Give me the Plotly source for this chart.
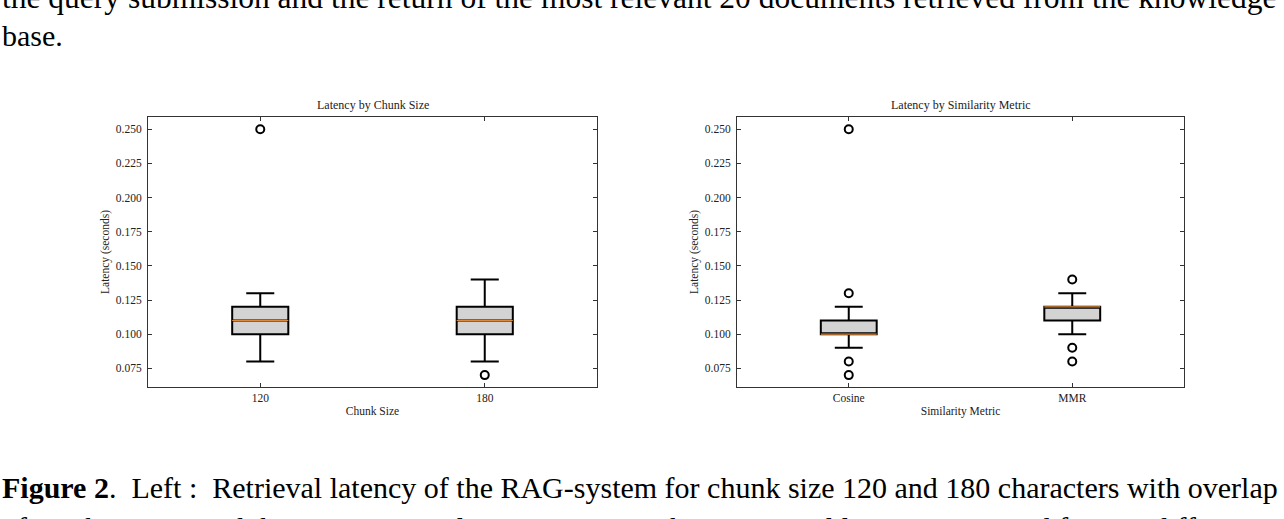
import plotly.graph_objects as go

# ---- data ----
chunk_labels = ["120", "180"]
chunk_pos = [1, 2]
chunk_q1 = [0.100, 0.100]
chunk_median = [0.110, 0.110]
chunk_q3 = [0.120, 0.120]
chunk_low = [0.080, 0.080]
chunk_high = [0.130, 0.140]
chunk_outliers = [[0.250], [0.070]]

metric_labels = ["Cosine", "MMR"]
metric_pos = [1, 2]
metric_q1 = [0.100, 0.110]
metric_median = [0.100, 0.120]
metric_q3 = [0.110, 0.120]
metric_low = [0.090, 0.100]
metric_high = [0.120, 0.130]
metric_outliers = [[0.250, 0.130, 0.080, 0.070], [0.140, 0.090, 0.080]]

y_ticks = [0.075, 0.100, 0.125, 0.150, 0.175, 0.200, 0.225, 0.250]

W, H = 1284, 519
FONT = "Liberation Serif, Times New Roman, serif"
BOX_W = 0.25


def px(xp):
    return xp / W


def py(yp):
    return 1 - yp / H


fig = go.Figure()


def add_panel(xa, ya, pos, q1, med, q3, lo, hi, outl):
    fig.add_trace(go.Box(
        x=pos, q1=q1, median=med, q3=q3, lowerfence=lo, upperfence=hi,
        width=BOX_W, whiskerwidth=0.5, fillcolor="#d3d3d3",
        line=dict(color="black", width=2), boxpoints=False,
        xaxis=xa, yaxis=ya, showlegend=False, hoverinfo="skip"))
    # orange median line
    fig.add_trace(go.Box(
        x=pos, q1=med, median=med, q3=med, lowerfence=med, upperfence=med,
        width=BOX_W, whiskerwidth=0, fillcolor="rgba(0,0,0,0)",
        line=dict(color="#e0893a", width=1.2), boxpoints=False,
        xaxis=xa, yaxis=ya, showlegend=False, hoverinfo="skip"))
    ox, oy = [], []
    for p, vals in zip(pos, outl):
        for v in vals:
            ox.append(p)
            oy.append(v)
    fig.add_trace(go.Scatter(
        x=ox, y=oy, mode="markers", xaxis=xa, yaxis=ya,
        marker=dict(symbol="circle-open", size=8, color="black",
                    line=dict(width=2, color="black")),
        showlegend=False, hoverinfo="skip"))


add_panel("x", "y", chunk_pos, chunk_q1, chunk_median, chunk_q3,
          chunk_low, chunk_high, chunk_outliers)
add_panel("x2", "y2", metric_pos, metric_q1, metric_median, metric_q3,
          metric_low, metric_high, metric_outliers)

axis_common = dict(
    showline=True, linecolor="#333333", linewidth=1, mirror="ticks",
    ticks="inside", ticklen=4, tickcolor="#333333", tickwidth=1,
    showgrid=False, zeroline=False,
    tickfont=dict(family=FONT, size=11.5, color="#222222"),
)
label_font = dict(family=FONT, size=11.5, color="#222222")

yax = dict(axis_common, range=[0.0613, 0.259], tickvals=y_ticks,
           ticktext=[f"{v:.3f}" for v in y_ticks],
           domain=[py(387), py(117)], ticklabelstandoff=3,
           title=dict(text="Latency (seconds)", standoff=3, font=label_font))

fig.update_layout(
    width=W, height=H,
    margin=dict(l=0, r=0, t=0, b=0),
    paper_bgcolor="white", plot_bgcolor="white",
    boxmode="overlay",
    xaxis=dict(axis_common, range=[0.5, 2.5], tickvals=chunk_pos,
               ticktext=chunk_labels, domain=[px(148), px(597)],
               title=dict(text="Chunk Size", standoff=4, font=label_font)),
    xaxis2=dict(axis_common, range=[0.5, 2.5], tickvals=metric_pos,
                ticktext=metric_labels, domain=[px(737), px(1184)],
                anchor="y2",
                title=dict(text="Similarity Metric", standoff=4, font=label_font)),
    yaxis=dict(yax, anchor="x"),
    yaxis2=dict(yax, anchor="x2"),
)

title_font = dict(family=FONT, size=12, color="#222222")
fig.add_annotation(text="Latency by Chunk Size", xref="paper", yref="paper",
                   x=px((148 + 597) / 2), y=py(105), showarrow=False,
                   font=title_font, xanchor="center", yanchor="middle")
fig.add_annotation(text="Latency by Similarity Metric", xref="paper", yref="paper",
                   x=px((737 + 1184) / 2), y=py(105), showarrow=False,
                   font=title_font, xanchor="center", yanchor="middle")

# surrounding page text
page_font = dict(family=FONT, size=30, color="black")
fig.add_annotation(
    text="the query submission and the return of the most relevant 20 documents retrieved from the knowledge",
    xref="paper", yref="paper", x=px(0), y=py(-2), xanchor="left", yanchor="middle",
    showarrow=False, font=dict(family=FONT, size=31.5, color="black"))
fig.add_annotation(text="base.", xref="paper", yref="paper", x=px(0), y=py(36),
                   xanchor="left", yanchor="middle", showarrow=False, font=page_font)
fig.add_annotation(
    text="<b>Figure 2</b>.  Left :  Retrieval latency of the RAG-system for chunk size 120 and 180 characters with overlap",
    xref="paper", yref="paper", x=px(0), y=py(487), xanchor="left", yanchor="middle",
    showarrow=False, font=page_font)
fig.add_annotation(
    text="of 20 characters and the same retrieval parameters.  Right :  Retrieval latency measured for two different",
    xref="paper", yref="paper", x=px(0), y=py(527), xanchor="left", yanchor="middle",
    showarrow=False, font=page_font)

fig.write_html(
    "out.html",
    config={"displayModeBar": False},
    post_script="document.body.style.margin='0';document.body.style.overflow='hidden';",
)
